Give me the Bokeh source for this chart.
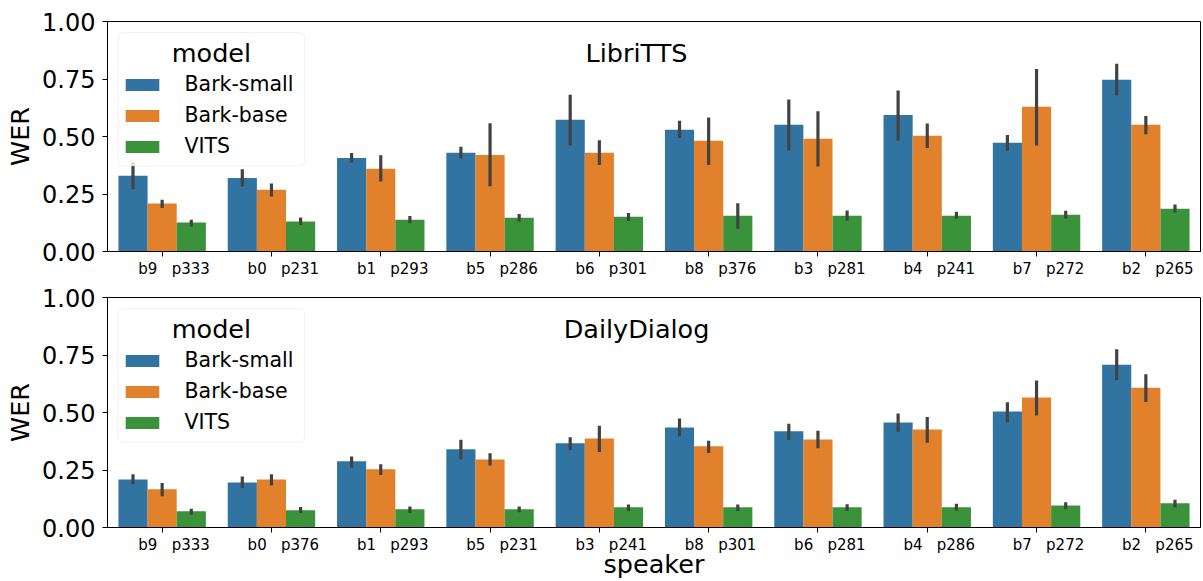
from bokeh.plotting import figure
from bokeh.models import (FactorRange, Range1d, FixedTicker, ColumnDataSource, Legend,
                          LegendItem, BoxAnnotation, Label, NumeralTickFormatter)
from bokeh.transform import dodge
from bokeh.layouts import column
from bokeh.embed import file_html
from bokeh.resources import INLINE

FONT = "DejaVu Sans"

models = ["Bark-small", "Bark-base", "VITS"]
colors = ["#3274a1", "#e1812c", "#3a923a"]
yticks = [0.0, 0.25, 0.5, 0.75, 1.0]

# ---- LibriTTS ----
libri_bark = ["b9", "b0", "b1", "b5", "b6", "b8", "b3", "b4", "b7", "b2"]
libri_vctk = ["p333", "p231", "p293", "p286", "p301", "p376", "p281", "p241", "p272", "p265"]
libri_small = [0.329, 0.320, 0.407, 0.429, 0.573, 0.529, 0.551, 0.594, 0.473, 0.747]
libri_small_lo = [0.271, 0.283, 0.387, 0.404, 0.461, 0.493, 0.439, 0.483, 0.438, 0.678]
libri_small_hi = [0.387, 0.358, 0.428, 0.455, 0.681, 0.568, 0.661, 0.700, 0.507, 0.816]
libri_base = [0.209, 0.268, 0.360, 0.420, 0.429, 0.481, 0.490, 0.503, 0.629, 0.551]
libri_base_lo = [0.189, 0.239, 0.304, 0.284, 0.376, 0.376, 0.370, 0.450, 0.461, 0.510]
libri_base_hi = [0.225, 0.296, 0.419, 0.558, 0.484, 0.583, 0.610, 0.557, 0.793, 0.589]
libri_vits = [0.126, 0.130, 0.138, 0.147, 0.151, 0.155, 0.155, 0.155, 0.160, 0.186]
libri_vits_lo = [0.109, 0.115, 0.123, 0.130, 0.133, 0.099, 0.135, 0.142, 0.143, 0.170]
libri_vits_hi = [0.138, 0.148, 0.154, 0.163, 0.167, 0.210, 0.178, 0.173, 0.177, 0.204]

# ---- DailyDialog ----
daily_bark = ["b9", "b0", "b1", "b5", "b3", "b8", "b6", "b4", "b7", "b2"]
daily_vctk = ["p333", "p376", "p293", "p231", "p241", "p301", "p281", "p286", "p272", "p265"]
daily_small = [0.209, 0.196, 0.288, 0.340, 0.366, 0.435, 0.418, 0.457, 0.504, 0.708]
daily_small_lo = [0.188, 0.172, 0.260, 0.296, 0.337, 0.397, 0.380, 0.416, 0.458, 0.640]
daily_small_hi = [0.231, 0.222, 0.309, 0.382, 0.392, 0.474, 0.451, 0.496, 0.545, 0.775]
daily_base = [0.166, 0.209, 0.253, 0.296, 0.387, 0.353, 0.383, 0.426, 0.565, 0.608]
daily_base_lo = [0.136, 0.183, 0.228, 0.270, 0.328, 0.324, 0.345, 0.369, 0.487, 0.546]
daily_base_hi = [0.193, 0.232, 0.275, 0.323, 0.442, 0.377, 0.421, 0.480, 0.639, 0.666]
daily_vits = [0.071, 0.075, 0.079, 0.079, 0.088, 0.088, 0.088, 0.088, 0.096, 0.105]
daily_vits_lo = [0.055, 0.063, 0.063, 0.066, 0.072, 0.072, 0.072, 0.074, 0.079, 0.087]
daily_vits_hi = [0.082, 0.089, 0.091, 0.091, 0.100, 0.100, 0.101, 0.103, 0.110, 0.121]

NB = "\u00a0"


def make_panel(title, bark, vctk, vals, los, his, xlabel, height, mb_top, mb_bottom):
    factors = [NB * 5 + b + NB * 3 + v for b, v in zip(bark, vctk)]
    p = figure(width=1203, height=height, x_range=FactorRange(factors=factors),
               y_range=Range1d(0, 1), output_backend="svg", toolbar_location=None,
               min_border_left=107, min_border_right=3, min_border_top=mb_top,
               min_border_bottom=mb_bottom)
    p.background_fill_color = "white"
    p.border_fill_color = "white"
    p.outline_line_color = "black"
    p.outline_line_width = 1
    p.xgrid.grid_line_color = None
    p.ygrid.grid_line_color = None

    bw = 0.8 / 3
    renderers = []
    for i, m in enumerate(models):
        src = ColumnDataSource(dict(spk=factors, val=vals[i], lo=los[i], hi=his[i]))
        off = (i - 1) * bw
        r = p.vbar(x=dodge("spk", off, range=p.x_range), top="val", width=bw,
                   source=src, fill_color=colors[i], line_color=None)
        p.segment(x0=dodge("spk", off, range=p.x_range), y0="lo",
                  x1=dodge("spk", off, range=p.x_range), y1="hi",
                  source=src, line_color="#424242", line_width=3.2)
        renderers.append(r)

    # axes
    p.yaxis.ticker = FixedTicker(ticks=yticks)
    p.yaxis.formatter = NumeralTickFormatter(format="0.00")
    p.yaxis.axis_label = "WER"
    for ax in (p.xaxis, p.yaxis):
        ax.axis_line_color = "black"
        ax.axis_line_width = 1
        ax.major_tick_line_color = "black"
        ax.major_tick_out = 5
        ax.major_tick_in = 0
        ax.minor_tick_line_color = None
        ax.axis_label_text_font = FONT
        ax.axis_label_text_font_style = "normal"
        ax.axis_label_text_font_size = "25.5px"
        ax.major_label_text_font = FONT
        ax.major_label_text_color = "black"
        ax.axis_label_text_color = "black"
    p.yaxis.major_label_standoff = 7
    p.xaxis.major_label_standoff = 3
    p.yaxis.major_label_text_font_size = "24px"
    p.yaxis.axis_label_standoff = 4
    p.xaxis.major_label_text_font_size = "15px"
    if xlabel:
        p.xaxis.axis_label = xlabel
        p.xaxis.axis_label_standoff = -8

    # legend frame
    box = BoxAnnotation(left=0.098, right=1.802, top=0.952, bottom=0.372,
                        fill_color="white", fill_alpha=0.8, line_color="#cccccc",
                        line_width=1, border_radius=5)
    p.add_layout(box)
    legend = Legend(items=[LegendItem(label=m, renderers=[r]) for m, r in zip(models, renderers)],
                    location=(13.5, 93), glyph_width=42, glyph_height=15, label_standoff=22,
                    spacing=7, padding=0, margin=0, background_fill_alpha=0,
                    border_line_color=None, label_text_font=FONT,
                    label_text_font_size="20.5px", label_text_color="black")
    p.add_layout(legend)
    p.add_layout(Label(x=0.951, y=0.864, text="model", text_align="center",
                       text_baseline="middle", text_font=FONT,
                       text_font_size="25.5px", text_color="black"))
    p.add_layout(Label(x=4.84, y=0.864, text=title, text_align="center",
                       text_baseline="middle", text_font=FONT,
                       text_font_size="25.5px", text_color="black"))
    return p


p1 = make_panel("LibriTTS", libri_bark, libri_vctk,
                [libri_small, libri_base, libri_vits],
                [libri_small_lo, libri_base_lo, libri_vits_lo],
                [libri_small_hi, libri_base_hi, libri_vits_hi],
                None, 281, 21, 30)
p2 = make_panel("DailyDialog", daily_bark, daily_vctk,
                [daily_small, daily_base, daily_vits],
                [daily_small_lo, daily_base_lo, daily_vits_lo],
                [daily_small_hi, daily_base_hi, daily_vits_hi],
                "speaker", 300, 16, 54)

layout = column(p1, p2, spacing=0)
open("out.html", "w").write(file_html(layout, INLINE))
